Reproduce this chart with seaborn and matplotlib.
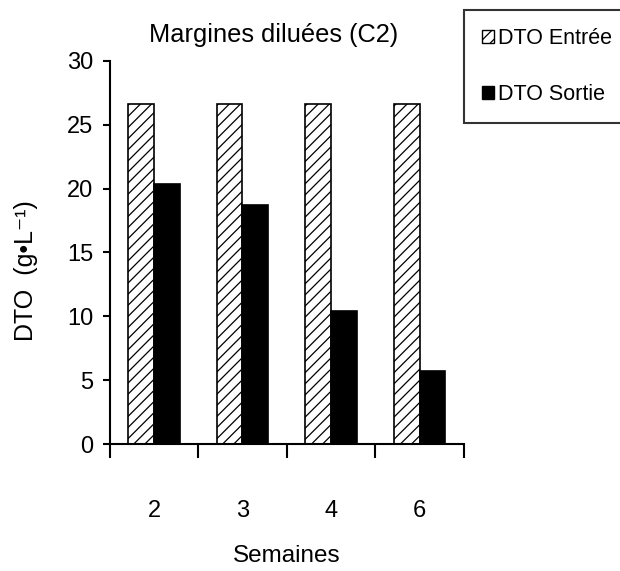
import pandas as pd
import matplotlib
matplotlib.use("Agg")
import matplotlib.pyplot as plt
import seaborn as sns
from matplotlib.patches import Patch

# data
semaines = ["2", "3", "4", "6"]
dto_entree = [26.6, 26.6, 26.6, 26.6]
dto_sortie = [20.4, 18.7, 10.4, 5.7]
series = ["DTO Entrée", "DTO Sortie"]

df = pd.DataFrame({
    "Semaines": semaines * 2,
    "DTO": dto_entree + dto_sortie,
    "serie": [series[0]] * len(semaines) + [series[1]] * len(semaines),
})

sns.set_style("white")
plt.rcParams['font.family'] = ['Liberation Sans', 'DejaVu Sans']
plt.rcParams['hatch.linewidth'] = 0.9
for key in ["text.color", "axes.labelcolor", "xtick.color", "ytick.color"]:
    plt.rcParams[key] = "black"

fig = plt.figure(figsize=(6.2, 5.71), dpi=100)
ax = fig.add_axes([0.177, 0.2224, 0.571, 0.6708])

sns.barplot(data=df, x="Semaines", y="DTO", hue="serie", order=semaines,
            hue_order=series, palette=["white", "black"], width=0.58,
            edgecolor="black", linewidth=1.2, saturation=1, ax=ax, legend=False)

n = len(semaines)
for i, p in enumerate(ax.patches[:2 * n]):
    if i < n:
        p.set_facecolor("white")
        p.set_hatch("///")
        p.set_edgecolor("black")
    else:
        p.set_facecolor("black")

ax.set_ylim(0, 30)
ax.set_xlim(-0.5, 3.5)
ax.set_yticks(range(0, 31, 5))
ax.set_yticklabels([str(v) for v in range(0, 31, 5)], fontsize=17)
ax.set_xticks(range(n))
ax.set_xticklabels(semaines, fontsize=17)
ax.set_xticks([-0.5 + k for k in range(n + 1)], minor=True)
ax.tick_params(axis="x", which="major", length=0, pad=40)
ax.tick_params(axis="x", which="minor", length=10, width=1.5, direction="out",
               bottom=True)
ax.tick_params(axis="y", length=5, width=1.5, direction="out", left=True, pad=7)

for s in ["top", "right"]:
    ax.spines[s].set_visible(False)
for s in ["left", "bottom"]:
    ax.spines[s].set_linewidth(1.5)
    ax.spines[s].set_color("black")

ax.set_xlabel("Semaines", fontsize=17.5, labelpad=17)
ax.set_ylabel("")
fig.text(274 / 620, 1 - 42 / 571, "Margines diluées (C2)", fontsize=18.3,
         ha="center", va="baseline")
fig.text(26 / 620, 1 - 271 / 571, "DTO  (g•L⁻¹)", fontsize=18, rotation=90,
         ha="center", va="center")

handles = [Patch(facecolor="white", edgecolor="black", hatch="///"),
           Patch(facecolor="black", edgecolor="black")]
leg = fig.legend(handles, series, loc="upper left",
                 bbox_to_anchor=(464 / 620, 1 - 10 / 571), borderaxespad=0,
                 frameon=True, fancybox=False, edgecolor="black",
                 prop={"size": 15.5}, handlelength=0.55, handleheight=0.55,
                 handletextpad=0.2, borderpad=0.85, labelspacing=1.6)
leg.get_frame().set_linewidth(1.5)

fig.savefig("out.png", dpi=100)
